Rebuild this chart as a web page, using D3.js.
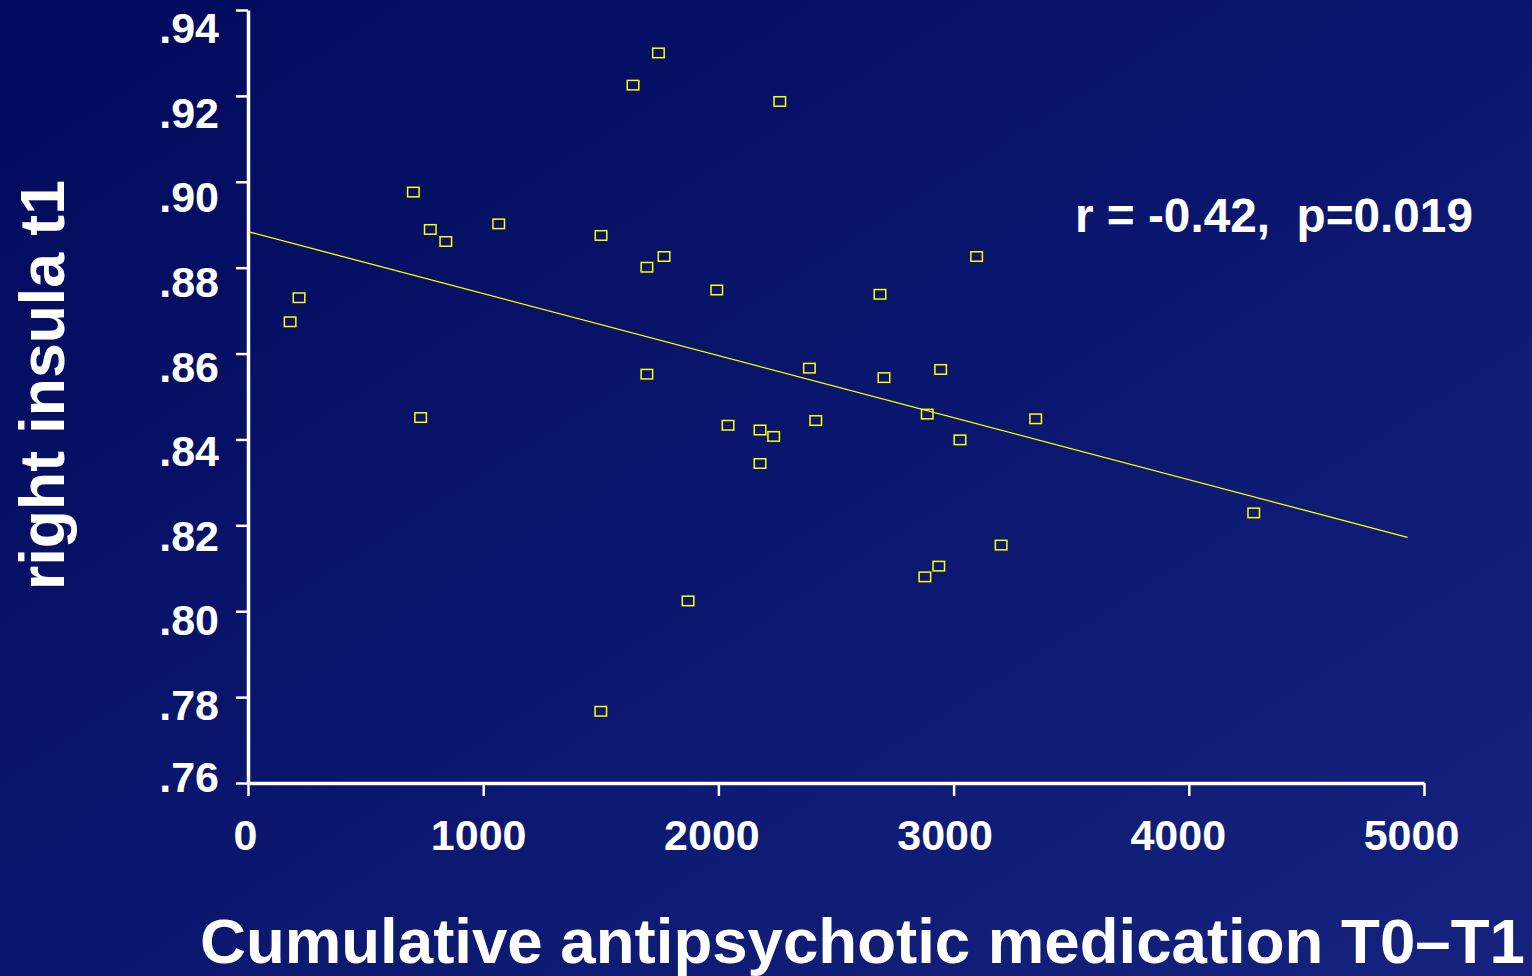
<!DOCTYPE html>
<html>
<head>
<meta charset="utf-8">
<script src="https://cdn.jsdelivr.net/npm/d3@7"></script>
<style>
  html, body { margin: 0; padding: 0; background: #0a1670; }
  svg { display: block; }
  text { font-family: "Liberation Sans", Arial, sans-serif; font-weight: bold; fill: #fff; }
</style>
</head>
<body>
<svg width="1532" height="976"></svg>
<script>
// data
var medication = [179, 217, 703, 775, 841, 734, 1066, 1501, 1500, 1637, 1745, 1696,
                  1769, 1696, 1871, 1993, 2041, 2177, 2235, 2177, 2261, 2387, 2414, 2687,
                  2704, 2888, 2945, 2878, 2937, 3027, 3098, 3202, 3349, 4276];
var insula = [0.8674, 0.8730, 0.8976, 0.8889, 0.8861, 0.8451, 0.8902, 0.8875, 0.7767, 0.9225,
              0.9300, 0.8801, 0.8826, 0.8552, 0.8024, 0.8748, 0.8433, 0.8422, 0.8407, 0.8344,
              0.9187, 0.8566, 0.8444, 0.8738, 0.8544, 0.8459, 0.8563, 0.8080, 0.8105, 0.8399,
              0.8826, 0.8154, 0.8448, 0.8229];

// regression line end points
var fitX = [0, 4930];
var fitY = [0.8884, 0.8172];

var xTicks = [0, 1000, 2000, 3000, 4000, 5000];
var yTicks = [0.76, 0.78, 0.80, 0.82, 0.84, 0.86, 0.88, 0.90, 0.92, 0.94];

var statText = "r = -0.42,  p=0.019";
var xTitle = "Cumulative antipsychotic medication T0\u2013T1";
var yTitle = "right insula t1";

var svg = d3.select("svg");

// background gradient
var defs = svg.append("defs");
var grad = defs.append("linearGradient")
    .attr("id", "bg")
    .attr("x1", "0%").attr("y1", "0%")
    .attr("x2", "100%").attr("y2", "100%");
grad.append("stop").attr("offset", "0%").attr("stop-color", "#000a5c");
grad.append("stop").attr("offset", "100%").attr("stop-color", "#15237f");
svg.append("rect").attr("width", 1532).attr("height", 976).attr("fill", "url(#bg)");

var x = d3.scaleLinear().domain([0, 5000]).range([248, 1424]);
var y = d3.scaleLinear().domain([0.76, 0.94]).range([783, 10]);

// the slide's labels sit slightly off their ticks
var labelX = d3.scaleLinear().domain([0, 5000]).range([245.5, 1411.5]);
var labelY = d3.scaleLinear().domain([0.78, 0.94]).range([720, 43]);

var fmt = function(v) { return d3.format(".2f")(v).replace(/^0/, ""); };

// axes (marks only, labels drawn below)
var gx = svg.append("g")
    .attr("transform", "translate(0," + y.range()[0] + ")")
    .call(d3.axisBottom(x).tickValues(xTicks).tickSize(13).tickSizeOuter(0).tickFormat(""));
var gy = svg.append("g")
    .attr("transform", "translate(" + x.range()[0] + ",0)")
    .call(d3.axisLeft(y).tickValues(yTicks).tickSize(12).tickSizeOuter(0).tickFormat(""));

gx.select(".domain").attr("stroke", "#fff").attr("stroke-width", 3.5);
gy.select(".domain").attr("stroke", "#fff").attr("stroke-width", 3.5);
svg.selectAll(".tick line").attr("stroke", "#fff").attr("stroke-width", 2.5);

svg.append("g").selectAll("text")
    .data(xTicks)
    .enter().append("text")
    .attr("x", function(d) { return labelX(d); })
    .attr("y", 850)
    .attr("text-anchor", "middle")
    .style("font-size", "43px")
    .text(function(d) { return d; });

svg.append("g").selectAll("text")
    .data(yTicks)
    .enter().append("text")
    .attr("x", 219)
    .attr("y", function(d) { return Math.min(labelY(d), 792); }) // .76 pushed up above the x axis
    .attr("text-anchor", "end")
    .style("font-size", "43px")
    .text(fmt);

// fit line
svg.append("line")
    .attr("x1", x(fitX[0])).attr("y1", y(fitY[0]))
    .attr("x2", x(fitX[1])).attr("y2", y(fitY[1]))
    .attr("stroke", "#ffff00")
    .attr("stroke-width", 1.3);

// points
var pts = d3.range(medication.length);
svg.append("g").selectAll("rect")
    .data(pts)
    .enter().append("rect")
    .attr("x", function(i) { return x(medication[i]) - 5.75; })
    .attr("y", function(i) { return y(insula[i]) - 4.75; })
    .attr("width", 11.5)
    .attr("height", 9.5)
    .attr("fill", "none")
    .attr("stroke", "#ffff00")
    .attr("stroke-width", 1.5);

var st = svg.append("text")
    .attr("x", 1075)
    .attr("y", 232)
    .style("font-size", "46px")
    .style("white-space", "pre")
    .text(statText);
var sw = st.node().getComputedTextLength();
st.style("font-size", (46 * 398 / sw) + "px");

// axis titles, sized to the slide's widths
var xt = svg.append("text")
    .attr("x", 200)
    .attr("y", 963)
    .style("font-size", "64px")
    .text(xTitle);
var w = xt.node().getComputedTextLength();
xt.style("font-size", (64 * 1325 / w) + "px");

var yt = svg.append("text")
    .attr("transform", "translate(64,385) rotate(-90)")
    .attr("text-anchor", "middle")
    .style("font-size", "62px")
    .text(yTitle);
var h = yt.node().getComputedTextLength();
yt.style("font-size", (62 * 410 / h) + "px");
</script>
</body>
</html>
